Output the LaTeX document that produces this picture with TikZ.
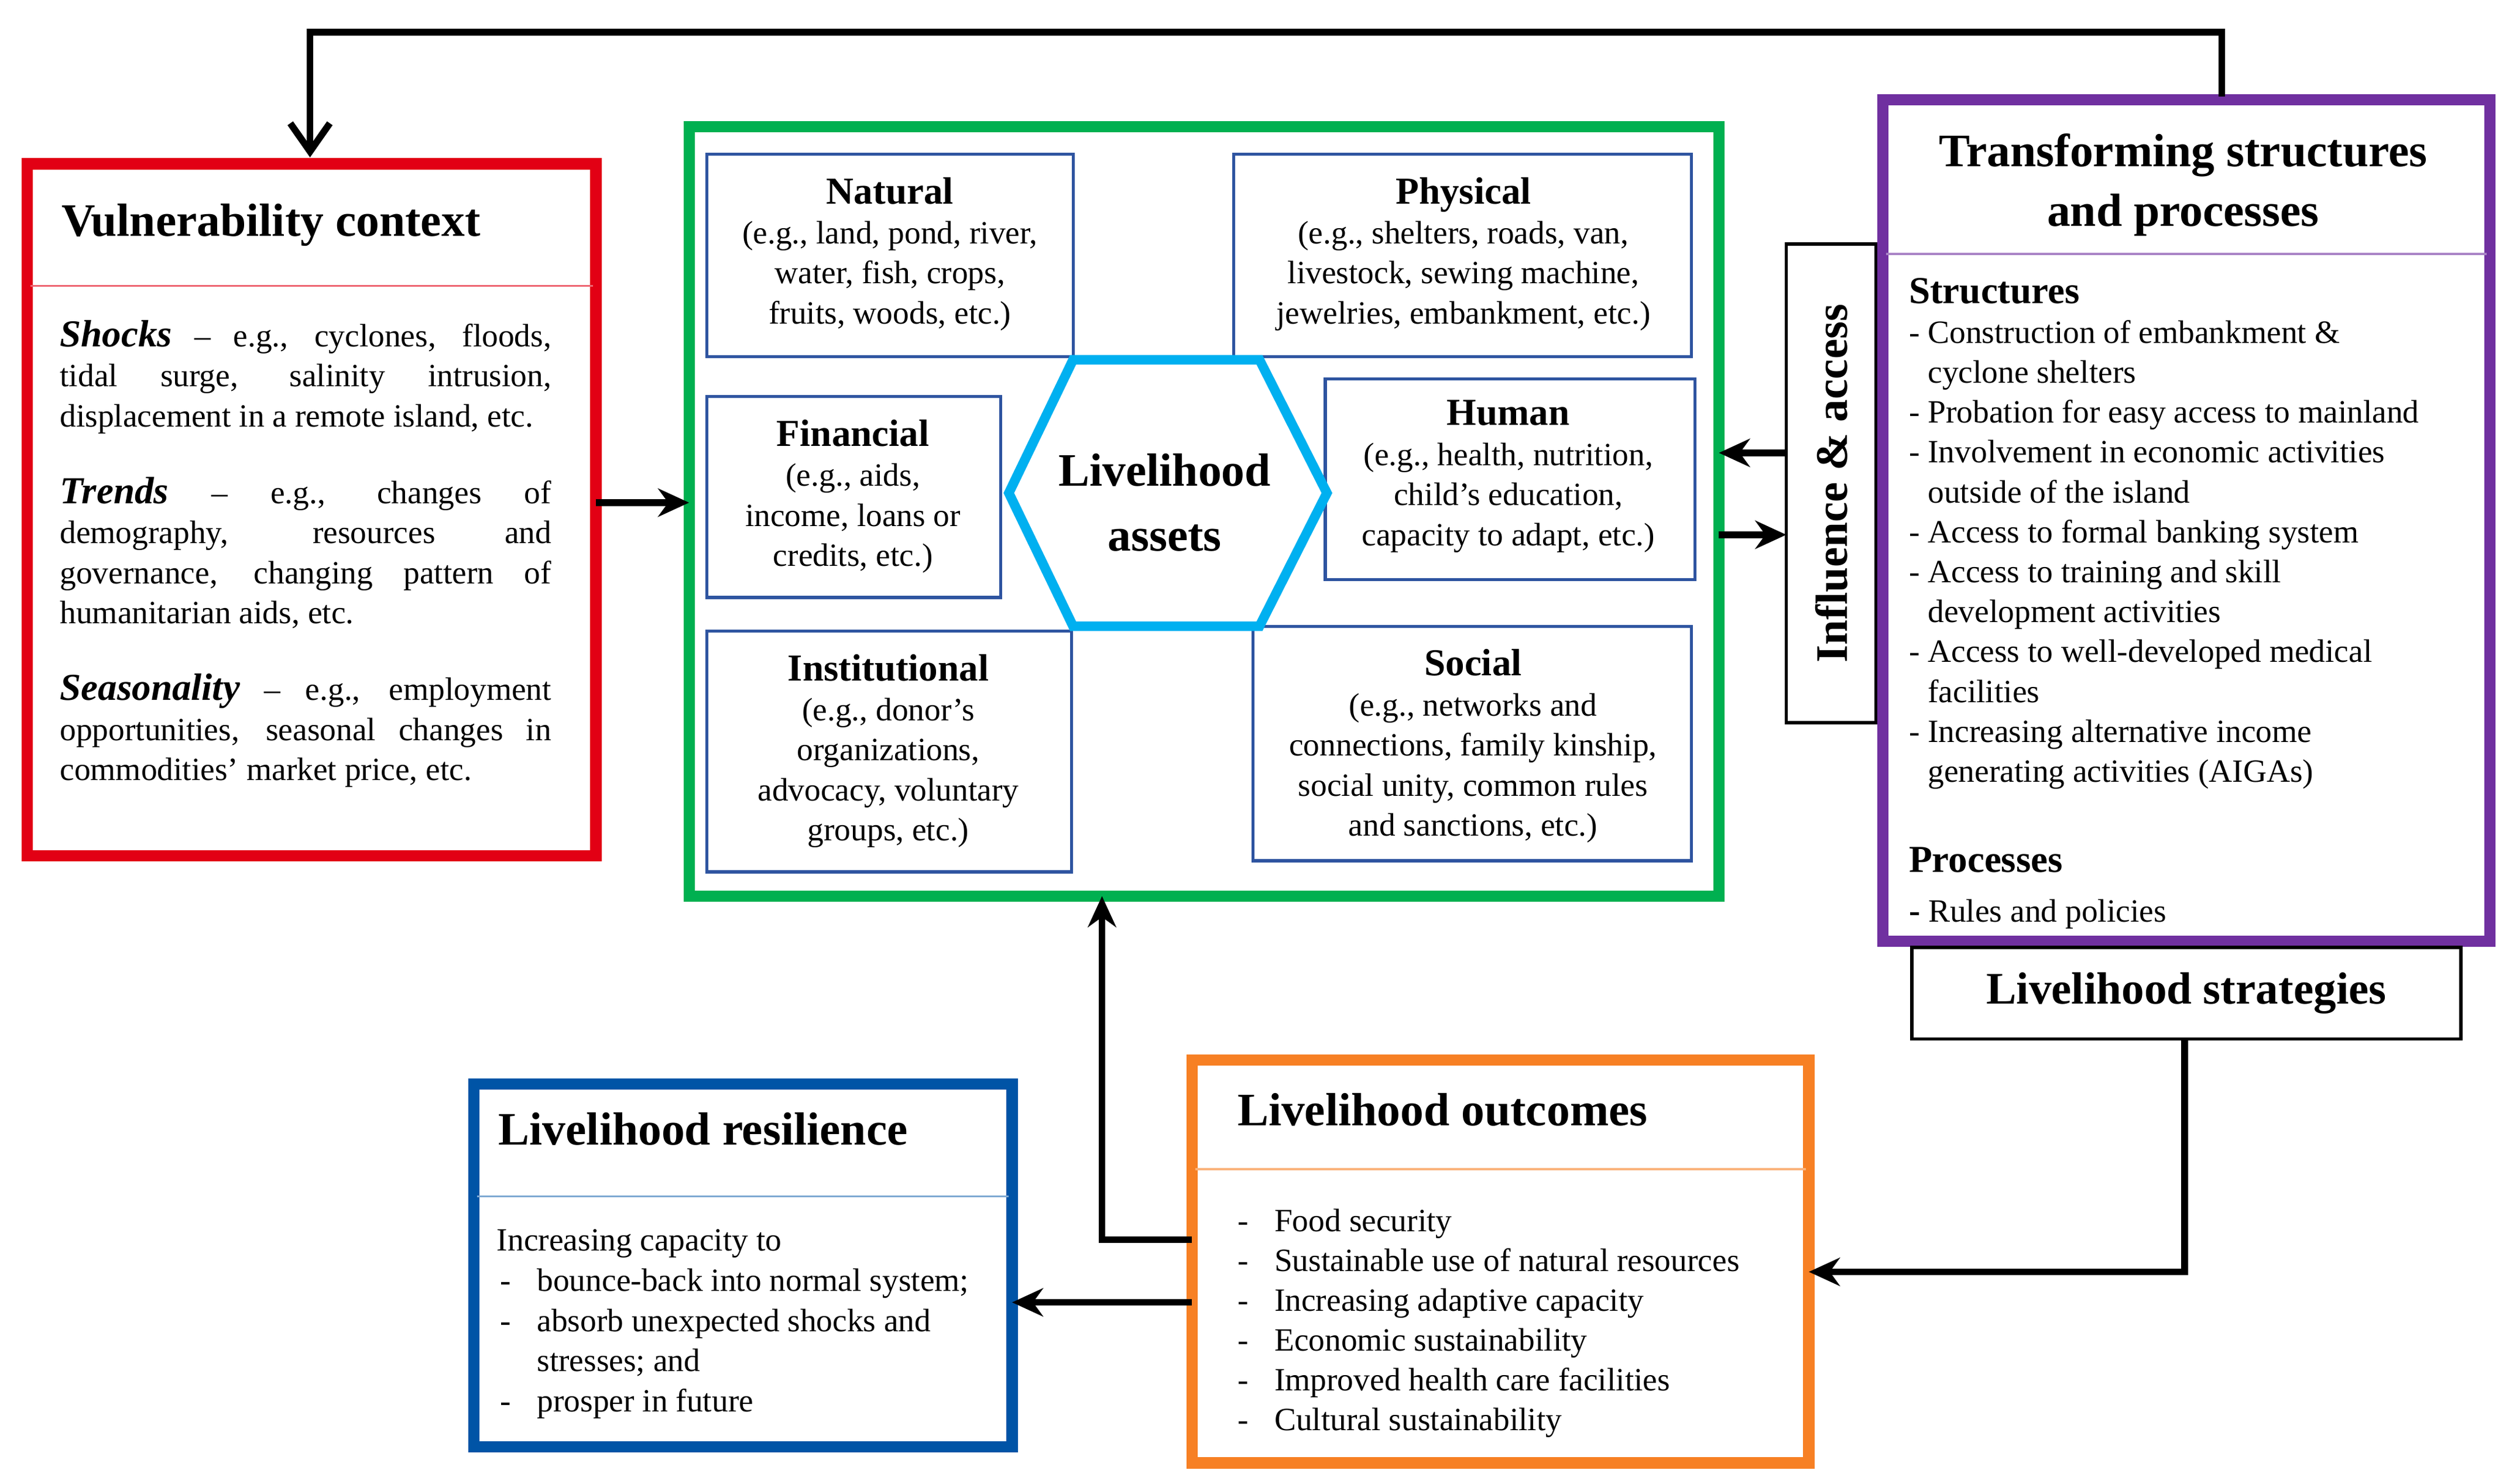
\documentclass[tikz,border=0pt]{standalone}
\usepackage{fontspec}
\setmainfont{Liberation Serif}
\usetikzlibrary{arrows.meta}
\definecolor{cred}{RGB}{226,0,20}
\definecolor{cgreen}{RGB}{0,176,80}
\definecolor{cblue}{RGB}{46,84,160}
\definecolor{ccyan}{RGB}{0,176,240}
\definecolor{cpurple}{RGB}{112,48,160}
\definecolor{corange}{RGB}{247,128,36}
\definecolor{cdblue}{RGB}{0,84,166}
\newcommand\bx[6]{\node[#6, anchor=north west, minimum width={(#4-#2)*0.02cm}, minimum height={(#5-#3)*0.02cm}, inner sep=0pt, outer sep=0pt] (#1) at (#2,#3) {};}
\tikzset{
 big/.style={draw=#1, line width=4pt},
 asset/.style={draw=cblue, line width=1.1pt},
 thin/.style={draw=black, line width=1.2pt},
 arr/.style={line width=2.4pt, -{Stealth[length=11pt,width=10pt]}},
 body/.style={inner sep=0pt, font=\fontsize{11.5}{14.2}\selectfont},
 ttl/.style={inner sep=0pt, font=\fontsize{16.5}{20}\selectfont\bfseries},
}
\begin{document}
\begin{tikzpicture}[x=0.02cm,y=-0.02cm]
\useasboundingbox (0,0) rectangle (1560,924);
% boxes
\bx{vul}{17}{102}{371}{533}{big=cred}
\bx{cap}{429}{79}{1070}{558}{big=cgreen}
\bx{nat}{440}{96}{668}{222}{asset}
\bx{phy}{768}{96}{1053}{222}{asset}
\bx{fin}{440}{247}{623}{372}{asset}
\bx{hum}{825}{236}{1055}{361}{asset}
\bx{ins}{440}{393}{667}{543}{asset}
\bx{soc}{780}{390}{1053}{536}{asset}
\bx{inf}{1112}{152}{1168}{450}{thin}
\bx{trs}{1172}{62}{1550}{586}{big=cpurple}
\bx{str}{1190}{590}{1532}{647}{thin}
\bx{out}{742}{660}{1126}{911}{big=corange}
\bx{res}{295}{675}{630}{901}{big=cdblue}
% hexagon
\draw[ccyan, line width=3.4pt] (628,307)--(668,224)--(784,224)--(826,307)--(784,390)--(668,390)--cycle;
\node[inner sep=0pt, align=center, font=\fontsize{16.5}{21}\selectfont\bfseries] (hex) at (725,313) {Livelihood\\[2pt]assets};
% title rules
\draw[cred!60, line width=0.8pt] (19,178)--(369,178);
\draw[cpurple!60, line width=0.8pt] (1174,158)--(1548,158);
\draw[corange!60, line width=0.8pt] (744,728)--(1124,728);
\draw[cdblue!50, line width=0.8pt] (297,745)--(628,745);
% vulnerability
\node[ttl, anchor=base west] (vt) at (38,147) {Vulnerability context};
\node[body, anchor=north west, text width=6.12cm, align=justify] (vb) at (37,199) {%
{\fontsize{13.5}{14}\selectfont\bfseries\itshape Shocks} – e.g., cyclones, floods,\linebreak tidal surge, salinity intrusion,\linebreak \mbox{displacement in a remote island, etc.}\par\vspace{13pt}
{\fontsize{13.5}{14}\selectfont\bfseries\itshape Trends} – e.g., changes of\linebreak demography, resources and\linebreak governance, changing pattern of\linebreak humanitarian aids, etc.\par\vspace{13pt}
{\fontsize{13.5}{14}\selectfont\bfseries\itshape Seasonality} – e.g., employment\linebreak opportunities, seasonal changes in\linebreak commodities’ market price, etc.\par};
% assets
\node[body, anchor=north, align=center] (natt) at (554,110) {{\fontsize{13.5}{17}\selectfont\bfseries Natural}\\(e.g., land, pond, river,\\water, fish, crops,\\fruits, woods, etc.)};
\node[body, anchor=north, align=center] (phyt) at (911,110) {{\fontsize{13.5}{17}\selectfont\bfseries Physical}\\(e.g., shelters, roads, van,\\livestock, sewing machine,\\jewelries, embankment, etc.)};
\node[body, anchor=north, align=center] (fint) at (531,261) {{\fontsize{13.5}{17}\selectfont\bfseries Financial}\\(e.g., aids,\\income, loans or\\credits, etc.)};
\node[body, anchor=north, align=center] (humt) at (939,249) {{\fontsize{13.5}{17}\selectfont\bfseries Human}\\(e.g., health, nutrition,\\child’s education,\\capacity to adapt, etc.)};
\node[body, anchor=north, align=center] (inst) at (553,407) {{\fontsize{13.5}{17}\selectfont\bfseries Institutional}\\(e.g., donor’s\\organizations,\\advocacy, voluntary\\groups, etc.)};
\node[body, anchor=north, align=center] (soct) at (917,404) {{\fontsize{13.5}{17}\selectfont\bfseries Social}\\(e.g., networks and\\connections, family kinship,\\social unity, common rules\\and sanctions, etc.)};
% influence
\node[inner sep=0pt, rotate=90, font=\fontsize{16}{18}\selectfont\bfseries] (inft) at (inf.center) {Influence \& access};
% transforming
\node[ttl, align=center, anchor=north] (trt) at (1359,83) {Transforming structures\\[1pt]and processes};
\node[inner sep=0pt, anchor=base west, font=\fontsize{13.5}{17}\selectfont\bfseries] (st) at (1188,189) {Structures};
\node[body, anchor=north west, align=left, font=\fontsize{11.5}{14.15}\selectfont] (sl) at (1188,199) {%
- Construction of embankment \&\\\phantom{- }cyclone shelters\\
- Probation for easy access to mainland\\
- Involvement in economic activities\\\phantom{- }outside of the island\\
- Access to formal banking system\\
- Access to training and skill\\\phantom{- }development activities\\
- Access to well-developed medical\\\phantom{- }facilities\\
- Increasing alternative income\\\phantom{- }generating activities (AIGAs)};
\node[inner sep=0pt, anchor=base west, font=\fontsize{13.5}{17}\selectfont\bfseries] (pt) at (1188,543) {Processes};
\node[body, anchor=base west] (pl) at (1188,574) {{\bfseries\large -} Rules and policies};
\node[inner sep=0pt, font=\fontsize{16}{18}\selectfont\bfseries] (stt) at (str.center) {Livelihood strategies};
% outcomes
\node[ttl, anchor=base west] (ot) at (770,701) {Livelihood outcomes};
\foreach \t [count=\i] in {Food security,Sustainable use of natural resources,Increasing adaptive capacity,Economic sustainability,Improved health care facilities,Cultural sustainability}{
 \node[body, anchor=base west] (od\i) at (770,742+24.8*\i) {-};
 \node[body, anchor=base west] (ol\i) at (793,742+24.8*\i) {\t};
}
% resilience
\node[ttl, anchor=base west] (rt) at (310,713) {Livelihood resilience};
\node[body, anchor=base west] (r0) at (309,779) {Increasing capacity to};
\node[body, anchor=base west] (r1) at (311,804) {-};
\node[body, anchor=base west] (r1t) at (334,804) {bounce-back into normal system;};
\node[body, anchor=base west] (r2) at (311,829) {-};
\node[body, anchor=base west] (r2t) at (334,829) {absorb unexpected shocks and};
\node[body, anchor=base west] (r2u) at (334,854) {stresses; and};
\node[body, anchor=base west] (r3) at (311,879) {-};
\node[body, anchor=base west] (r3t) at (334,879) {prosper in future};
% connectors
\coordinate (tA) at (1383,20);
\coordinate (tB) at (193,20);
\draw[line width=2.4pt, -{Straight Barb[length=10pt,width=14pt]}] (1383,60) -- (tA) -- (tB) -- (193,98);
\draw[arr] (vul.east |- 0,313) -- (cap.west |- 0,313);
\draw[arr] (inf.west |- 0,282) -- (cap.east |- 0,282);
\draw[arr] (cap.east |- 0,333) -- (inf.west |- 0,333);
\coordinate (sB) at (1360,792);
\draw[arr] (str.south -| 1360,0) -- (sB) -- (out.east |- sB);
\coordinate (uA) at (686,772);
\draw[arr] (out.west |- uA) -- (uA) -- (uA |- cap.south);
\draw[arr] (out.west |- 0,811) -- (res.east |- 0,811);
\end{tikzpicture}
\end{document}
